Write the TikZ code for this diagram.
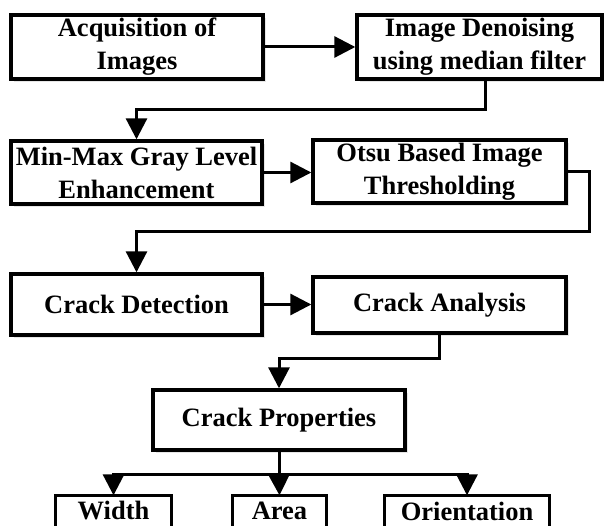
\documentclass[tikz,border=0pt]{standalone}
\usepackage{fontspec}
\setmainfont{Liberation Serif}
\usetikzlibrary{arrows.meta,shadows}

\begin{document}
\begin{tikzpicture}[x=1pt,y=-1pt,
  boxtext/.style={align=center, inner sep=0pt, line width=3.4pt,
    font=\fontsize{26.5}{33}\selectfont\bfseries},
  stagebox/.style={boxtext, draw=black, fill=white,
    drop shadow={shadow xshift=2.5pt, shadow yshift=-3pt, opacity=0.2, fill=gray}},
  frame/.style={draw=black, line width=3.4pt},
  flow/.style={line width=3pt, -{Triangle[length=21pt,width=21pt]}},
  link/.style={line width=3pt}]
  \useasboundingbox (0,0) rectangle (604,526);
  \clip (0,0) rectangle (604,526);

  % processing stages
  \node[stagebox, minimum width=252pt, minimum height=64pt] (acq) at (137,47)
    {Acquisition of\\Images};
  \node[stagebox, minimum width=245pt, minimum height=64pt] (den) at (479.5,47)
    {Image Denoising\\using median filter};
  \node[stagebox, minimum width=251pt, minimum height=63pt] (enh) at (136.5,172.5)
    {Min-Max Gray Level\\Enhancement};
  \node[stagebox, minimum width=253pt, minimum height=63pt] (otsu) at (439.5,171.5)
    {Otsu Based Image\\Thresholding};
  \node[stagebox, minimum width=251pt, minimum height=61pt] (det) at (136.5,304.5)
    {Crack Detection};
  \node[stagebox, minimum width=253pt, minimum height=56pt] (ana) at (439.5,305)
    {Crack Analysis};
  \node[stagebox, minimum width=252pt, minimum height=60pt] (prop) at (279,420)
    {Crack Properties};

  % measured properties (their boxes run on past the lower edge)
  \node[boxtext, minimum width=113pt, minimum height=28pt] (wid) at (113.5,511) {Width};
  \node[boxtext, minimum width=91pt, minimum height=28pt] (area) at (279.5,511) {Area};
  \node[boxtext, minimum width=162pt, minimum height=28pt] (ori) at (467,511) {Orientation};
  \foreach \n in {wid,area,ori}
    \draw[frame] ([yshift=-12pt]\n.south west) |- (\n.north east)
      -- ([yshift=-12pt]\n.south east);

  % connectors
  \draw[flow] (acq) -- (den);
  \draw[flow] ([xshift=5.5pt]den.south) -- ++(0,29) -| (enh.north);
  \draw[flow] (enh.east) -- (enh.east -| otsu.west);
  \draw[flow] (otsu.east) -| (589,232) -| (det.north);
  \draw[flow] (det.east) -- (det.east -| ana.west);
  \draw[flow] (ana.south) -- ++(0,24) -| (prop.north);

  \coordinate (fork) at (279,474);
  \draw[link] (prop.south) -- (fork);
  \draw[flow] (fork) -| (wid.north);
  \draw[flow] (fork) -- (area.north);
  \draw[flow] (fork) -| (ori.north);
\end{tikzpicture}
\end{document}
